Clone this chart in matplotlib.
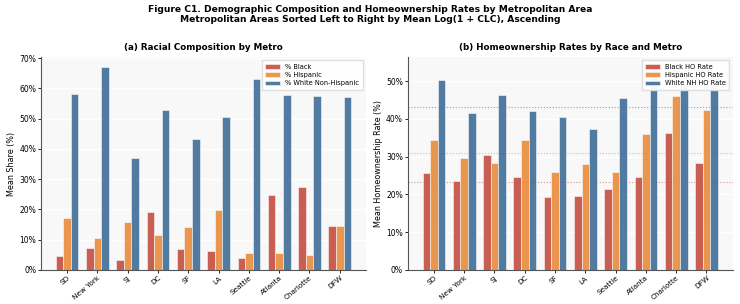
import matplotlib
matplotlib.use("Agg")
import matplotlib.pyplot as plt
import numpy as np
from matplotlib.ticker import FuncFormatter

metros = ["SD", "New York", "SJ", "DC", "SF", "LA", "Seattle", "Atlanta", "Charlotte", "DFW"]

pct_black = [4.7, 7.4, 3.3, 19.2, 7.0, 6.4, 4.0, 24.7, 27.4, 14.6]
pct_hispanic = [17.3, 10.6, 16.0, 11.7, 14.2, 19.8, 5.7, 5.7, 4.8, 14.6]
pct_white = [58.3, 67.0, 37.0, 52.8, 43.4, 50.6, 63.1, 57.8, 57.5, 57.3]

ho_black = [25.7, 23.5, 30.4, 24.5, 19.3, 19.7, 21.4, 24.7, 36.2, 28.3]
ho_hispanic = [34.5, 29.7, 28.4, 34.4, 26.0, 28.1, 25.9, 36.1, 46.1, 42.4]
ho_white = [50.3, 41.5, 46.3, 42.2, 40.5, 37.4, 45.6, 53.7, 49.5, 49.0]

ref_black = 23.4
ref_hispanic = 31.0
ref_white = 43.3

RED = "#c44e41"
ORANGE = "#ea8c3c"
BLUE = "#3f6d98"

fig = plt.figure(figsize=(7.4, 3.04), dpi=100)
fig.suptitle("Figure C1. Demographic Composition and Homeownership Rates by Metropolitan Area\n"
             "Metropolitan Areas Sorted Left to Right by Mean Log(1 + CLC), Ascending",
             fontsize=6.6, fontweight="bold", y=0.985, linespacing=1.25)

ax1 = fig.add_axes([0.0554, 0.112, 0.439, 0.700])
ax2 = fig.add_axes([0.551, 0.112, 0.439, 0.700])

x = np.arange(len(metros))
w = 0.25
pct_fmt = FuncFormatter(lambda v, p: f"{v:.0f}%")

def style(ax):
    ax.set_facecolor("#f8f8f8")
    ax.set_axisbelow(True)
    ax.grid(axis="y", color="white", linewidth=1.0)
    ax.grid(axis="x", visible=False)
    for s in ["top", "right"]:
        ax.spines[s].set_visible(False)
    for s in ["left", "bottom"]:
        ax.spines[s].set_color("#555555")
        ax.spines[s].set_linewidth(0.8)
    ax.yaxis.set_major_formatter(pct_fmt)
    ax.set_xticks(x)
    ax.set_xticklabels(metros, rotation=40, ha="right", rotation_mode="anchor", fontsize=5.2)
    ax.tick_params(axis="y", labelsize=5.5, length=2, width=0.6, pad=1.5)
    ax.tick_params(axis="x", length=2, width=0.6, pad=1.5)

kw = dict(width=w, edgecolor="white", linewidth=0.4, alpha=0.9)

ax1.bar(x - w, pct_black, color=RED, label="% Black", **kw)
ax1.bar(x, pct_hispanic, color=ORANGE, label="% Hispanic", **kw)
ax1.bar(x + w, pct_white, color=BLUE, label="% White Non-Hispanic", **kw)
style(ax1)
ax1.set_ylim(0, max(pct_white) * 1.05)
ax1.set_yticks(np.arange(0, 71, 10))
ax1.set_ylabel("Mean Share (%)", fontsize=5.8, labelpad=2)
ax1.set_title("(a) Racial Composition by Metro", fontsize=6.3, fontweight="bold", pad=5)
ax1.legend(loc="upper right", fontsize=4.8, frameon=True, framealpha=0.9,
           handlelength=2.2, handleheight=0.7, borderpad=0.5, labelspacing=0.35,
           fancybox=False, edgecolor="#dddddd")

ax2.bar(x - w, ho_black, color=RED, label="Black HO Rate", **kw)
ax2.bar(x, ho_hispanic, color=ORANGE, label="Hispanic HO Rate", **kw)
ax2.bar(x + w, ho_white, color=BLUE, label="White NH HO Rate", **kw)
style(ax2)
ax2.axhline(ref_black, color=RED, linestyle=":", linewidth=0.8, alpha=0.6, zorder=0.5)
ax2.axhline(ref_hispanic, color=ORANGE, linestyle=":", linewidth=0.8, alpha=0.6, zorder=0.5)
ax2.axhline(ref_white, color=BLUE, linestyle=":", linewidth=0.8, alpha=0.6, zorder=0.5)
ax2.set_ylim(0, max(ho_white) * 1.05)
ax2.set_yticks(np.arange(0, 51, 10))
ax2.set_ylabel("Mean Homeownership Rate (%)", fontsize=5.8, labelpad=2)
ax2.set_title("(b) Homeownership Rates by Race and Metro", fontsize=6.3, fontweight="bold", pad=5)
ax2.legend(loc="upper right", fontsize=4.8, frameon=True, framealpha=0.95,
           handlelength=2.2, handleheight=0.7, borderpad=0.5, labelspacing=0.35,
           fancybox=False, edgecolor="#dddddd")

fig.savefig("out.png", dpi=100)
